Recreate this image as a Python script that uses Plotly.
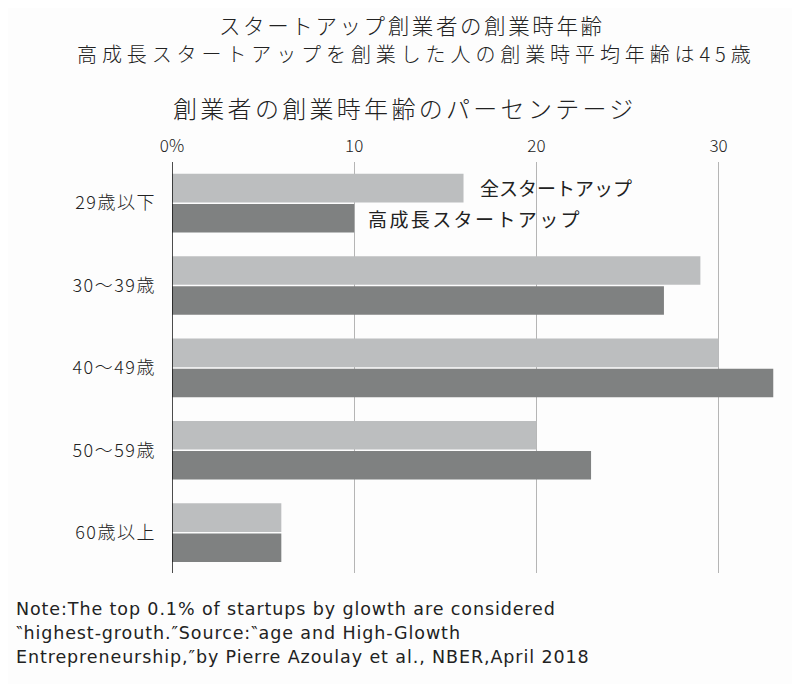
import plotly.graph_objects as go

# age groups, top to bottom
age_groups = ["29歳以下", "30～39歳", "40～49歳", "50～59歳", "60歳以上"]
all_startups = [16, 29, 30, 20, 6]
high_growth = [10, 27, 33, 23, 6]
series_names = ["全スタートアップ", "高成長スタートアップ"]
tick_vals = [0, 10, 20, 30]
tick_text = ["0%", "10", "20", "30"]

title = "スタートアップ創業者の創業時年齢"
subtitle = "高成長スタートアップを創業した人の創業時平均年齢は45歳"
chart_title = "創業者の創業時年齢のパーセンテージ"
footnote_lines = [
    "Note:The top 0.1% of startups by glowth are considered",
    "‶highest-grouth.″Source:‶age and High-Glowth",
    "Entrepreneurship,″by Pierre Azoulay et al., NBER,April 2018",
]

JP_FONT = "Noto Sans CJK JP"
TEXT = "#222222"


def spaced(s, px):
    return f'<span style="letter-spacing:{px}px">{s}</span>'


fig = go.Figure()
fig.add_trace(go.Bar(
    y=age_groups, x=all_startups, orientation="h", name=series_names[0],
    marker=dict(color="#bcbebf", line=dict(width=0)),
))
fig.add_trace(go.Bar(
    y=age_groups, x=high_growth, orientation="h", name=series_names[1],
    marker=dict(color="#7f8181", line=dict(width=0)),
))

# series labels beside the first group's bars
fig.add_annotation(x=all_startups[0], y=age_groups[0], text=series_names[0],
                   xanchor="left", yanchor="middle", yshift=16, xshift=14,
                   showarrow=False, font=dict(family=JP_FONT, size=19, color=TEXT))
fig.add_annotation(x=high_growth[0], y=age_groups[0], text=spaced(series_names[1], 2.4),
                   xanchor="left", yanchor="middle", yshift=-15, xshift=12,
                   showarrow=False, font=dict(family=JP_FONT, size=19, color=TEXT))

# page is drawn with an 8px offset, plot area spans x 172-778, y 162-573 on screen
def px_x(sx):
    return (sx - 172) / 606

def px_y(sy):
    return (573 - sy) / 411

head = dict(xref="paper", yref="paper", showarrow=False, xanchor="center", yanchor="middle")
fig.add_annotation(x=px_x(412), y=px_y(24), text=spaced(title, 2.6),
                   font=dict(family=JP_FONT, size=21.5, color=TEXT, weight=300), **head)
fig.add_annotation(x=px_x(416), y=px_y(53), text=spaced(subtitle, 4.9),
                   font=dict(family=JP_FONT, size=20, color=TEXT, weight=300), **head)
fig.add_annotation(x=px_x(405), y=px_y(108), text=spaced(chart_title, 3.3),
                   font=dict(family=JP_FONT, size=24, color=TEXT, weight=300), **head)

for line, sy in zip(footnote_lines, [609, 633, 657]):
    fig.add_annotation(x=px_x(14), y=px_y(sy), xref="paper", yref="paper",
                       xanchor="left", yanchor="middle", text=spaced(line, 0.9), showarrow=False,
                       font=dict(family="DejaVu Sans", size=17.5, color=TEXT))

fig.update_layout(
    width=800, height=684,
    paper_bgcolor="#fdfdfd", plot_bgcolor="#fdfdfd",
    margin=dict(l=164, r=30, t=154, b=119),
    barmode="group", bargap=0.27, bargroupgap=0.05,
    showlegend=False,
    font=dict(family=JP_FONT, color=TEXT),
    xaxis=dict(
        side="top", range=[0, 33.26], tickvals=tick_vals, ticktext=tick_text,
        showgrid=True, gridcolor="#b5b5b5", gridwidth=1, zeroline=False,
        ticks="", ticklabelstandoff=6,
        tickfont=dict(family=JP_FONT, size=17, color=TEXT, weight=300),
        showline=False,
    ),
    yaxis=dict(
        range=[4.49, -0.50], showgrid=False, zeroline=False,
        showline=False, ticks="", ticklabelstandoff=15,
        tickvals=age_groups, ticktext=[spaced(g, 1.5) for g in age_groups],
        tickfont=dict(family=JP_FONT, size=18, color=TEXT, weight=300),
    ),
    shapes=[dict(type="line", xref="x", yref="paper", x0=0, x1=0, y0=0, y1=1,
                 line=dict(color="#111111", width=1.5))],
)

fig.write_html("out.html")
